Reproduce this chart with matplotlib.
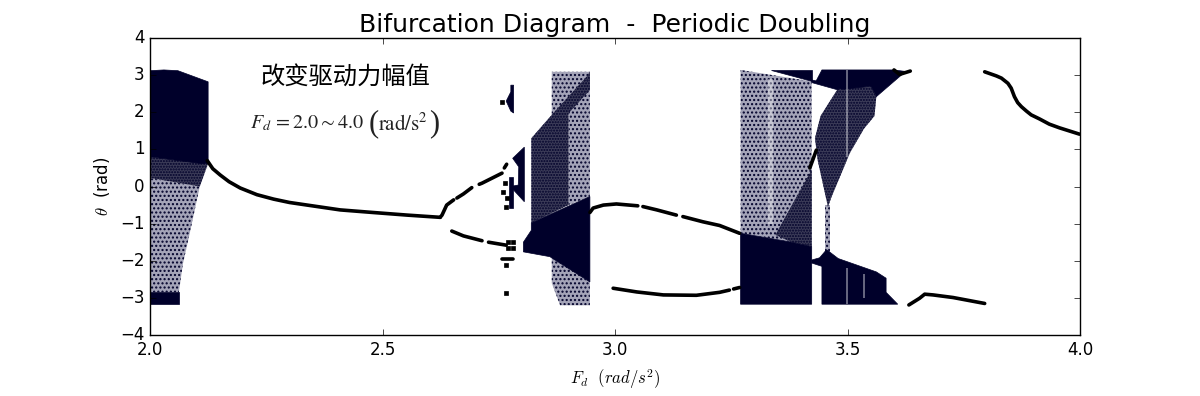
import matplotlib
matplotlib.use("Agg")
import matplotlib.pyplot as plt

plt.style.use("classic")
plt.rcParams["hatch.linewidth"] = 1.0

# thin curves: (Fd, theta), one list per visible piece
curve_main_f = [2.123, 2.135, 2.151, 2.170, 2.194, 2.230, 2.266, 2.300, 2.338, 2.409, 2.480, 2.553, 2.624]
curve_main_t = [0.70, 0.48, 0.31, 0.13, -0.04, -0.22, -0.34, -0.43, -0.50, -0.63, -0.70, -0.77, -0.83]

upper_a_f = [2.624, 2.628, 2.638, 2.653]
upper_a_t = [-0.83, -0.77, -0.50, -0.36]
upper_b_f = [2.660, 2.674, 2.692]
upper_b_t = [-0.31, -0.20, -0.03]
upper_c_f = [2.708, 2.714, 2.757]
upper_c_t = [0.06, 0.09, 0.36]
upper_d_f = [2.762, 2.767]
upper_d_t = [0.50, 0.60]

lower_a_f = [2.649, 2.674, 2.714]
lower_a_t = [-1.20, -1.33, -1.46]
lower_b_f = [2.728, 2.766]
lower_b_t = [-1.50, -1.58]
small_f = [2.757, 2.780]
small_t = [-1.96, -1.96]

hump_a_f = [2.946, 2.953, 2.975, 3.003, 3.049]
hump_a_t = [-0.70, -0.58, -0.50, -0.47, -0.52]
hump_b_f = [3.060, 3.090, 3.132]
hump_b_t = [-0.54, -0.63, -0.77]
hump_c_f = [3.146, 3.189, 3.225, 3.268]
hump_c_t = [-0.81, -0.95, -1.05, -1.26]

dip_f = [2.996, 3.047, 3.104, 3.175, 3.225, 3.246]
dip_t = [-2.74, -2.84, -2.92, -2.93, -2.85, -2.79]
dip_end_f = [3.255, 3.268]
dip_end_t = [-2.76, -2.72]

slant_f = [3.419, 3.433]
slant_t = [0.50, 0.98]

tail_low_f = [3.632, 3.655, 3.666, 3.684, 3.727, 3.795]
tail_low_t = [-3.19, -3.01, -2.90, -2.92, -2.99, -3.15]
tail_high_f = [3.795, 3.820, 3.831, 3.845, 3.852, 3.859, 3.866, 3.874, 3.885, 3.895, 3.913, 3.934, 3.956, 3.999]
tail_high_t = [3.09, 2.98, 2.92, 2.78, 2.65, 2.42, 2.26, 2.15, 2.03, 1.93, 1.82, 1.68, 1.58, 1.41]
fork_f = [3.600, 3.612, 3.635]
fork_t = [3.14, 3.02, 3.11]

dots_f = [2.770, 2.770, 2.780, 2.780, 2.767, 2.766, 2.760, 2.764, 2.766, 2.758, 2.766]
dots_t = [-1.50, -1.65, -1.50, -1.65, -0.31, -0.54, -0.15, 0.09, -2.12, 2.28, -2.87]

# dense clouds, solid: outline (Fd, theta)
solid_a_f = [2.000, 2.030, 2.060, 2.125, 2.125, 2.110, 2.000]
solid_a_t = [3.12, 3.14, 3.12, 2.82, 0.62, 0.62, 0.80]
solid_a2_f = [2.000, 2.062, 2.062, 2.000]
solid_a2_t = [-2.85, -2.85, -3.17, -3.17]
island_top_f = [2.776, 2.782, 2.782, 2.776, 2.766, 2.776]
island_top_t = [2.73, 2.73, 1.98, 2.03, 2.30, 2.55]
island_mid_f = [2.805, 2.780, 2.793, 2.792, 2.775, 2.805]
island_mid_t = [1.06, 0.76, 0.53, 0.04, 0.00, -0.41]
island_stem_f = [2.772, 2.780, 2.780, 2.772]
island_stem_t = [0.25, 0.25, -0.58, -0.58]
solid_b_f = [2.803, 2.820, 2.820, 2.946, 2.946, 2.860, 2.803]
solid_b_t = [-1.50, -1.18, -0.98, -0.27, -2.57, -1.89, -1.76]
solid_c_f = [3.270, 3.380, 3.423, 3.423, 3.270]
solid_c_t = [-1.26, -1.50, -1.62, -3.17, -3.17]
wedge_c_f = [3.336, 3.423, 3.423]
wedge_c_t = [3.14, 3.14, 2.83]
strip_c_f = [3.423, 3.480, 3.480, 3.423]
strip_c_t = [2.87, 2.72, 2.60, 2.80]
wedge_d_f = [3.445, 3.598, 3.625, 3.562, 3.550, 3.490, 3.470, 3.432]
wedge_d_t = [3.14, 3.14, 3.10, 2.42, 2.70, 2.62, 2.68, 2.83]
base_d_f = [3.423, 3.440, 3.455, 3.480, 3.562, 3.583, 3.583, 3.608, 3.445, 3.445, 3.423]
base_d_t = [-1.98, -1.92, -1.70, -1.94, -2.30, -2.47, -2.85, -3.17, -3.17, -2.15, -2.06]

# thinner clouds, dotted: outline (Fd, theta)
mid_a_f = [2.000, 2.125, 2.107, 2.000]
mid_a_t = [0.80, 0.62, 0.00, 0.23]
sparse_a_f = [2.000, 2.107, 2.087, 2.071, 2.062, 2.000]
sparse_a_t = [0.23, 0.00, -1.17, -2.07, -2.85, -2.85]
mid_b_f = [2.820, 2.864, 2.900, 2.900, 2.820]
mid_b_t = [1.30, 1.93, 2.40, -0.50, -0.98]
strip_b_f = [2.864, 2.939, 2.946, 2.946, 2.880]
strip_b_t = [1.93, 2.96, 3.09, 2.60, 1.70]
sparse_b_f = [2.864, 2.946, 2.946, 2.900, 2.900, 2.864]
sparse_b_t = [3.09, 3.09, -0.27, -0.50, 2.40, 1.93]
sparse_b2_f = [2.864, 2.946, 2.946, 2.882, 2.864]
sparse_b2_t = [-1.89, -2.57, -3.20, -3.20, -2.60]
sparse_c_f = [3.270, 3.423, 3.423, 3.380, 3.270]
sparse_c_t = [3.14, 2.83, -1.62, -1.50, -1.26]
mid_c_f = [3.423, 3.423, 3.380, 3.345]
mid_c_t = [0.45, -1.62, -1.50, -1.30]
mid_d_f = [3.480, 3.550, 3.562, 3.558, 3.535, 3.505, 3.465, 3.458, 3.436, 3.430, 3.442]
mid_d_t = [2.65, 2.70, 2.42, 1.90, 1.55, 0.90, -0.30, -0.55, 0.70, 1.30, 1.90]
stem_d_f = [3.452, 3.462, 3.462, 3.452]
stem_d_t = [-0.50, -0.50, -1.90, -1.90]

# pale vertical streaks that run through the clouds
streak_c_f = [3.328, 3.340, 3.340, 3.330]
streak_c_t = [2.90, 2.90, -1.00, -1.00]
streak_d1_f = [3.496, 3.500, 3.500, 3.496]
streak_d1_t = [-2.20, -2.20, -3.17, -3.17]
streak_d2_f = [3.533, 3.537, 3.537, 3.533]
streak_d2_t = [-2.35, -2.35, -3.00, -3.00]
streak_d3_f = [3.496, 3.500, 3.500, 3.496]
streak_d3_t = [3.14, 3.14, 0.80, 0.80]

title = "Bifurcation Diagram  -  Periodic Doubling"
note_cn = "改变驱动力幅值"
x_ticks = [2.0, 2.5, 3.0, 3.5, 4.0]
y_ticks = [-4, -3, -2, -1, 0, 1, 2, 3, 4]

NAVY = "#00002a"

fig = plt.figure(figsize=(12, 3.96), dpi=100, facecolor="white")
ax = fig.add_axes([0.125, 0.154, 0.775, 0.75])

# clouds go lightest first so the darker ones sit on top
for f, t in [(sparse_a_f, sparse_a_t), (sparse_b_f, sparse_b_t), (sparse_b2_f, sparse_b2_t),
             (sparse_c_f, sparse_c_t), (stem_d_f, stem_d_t)]:
    ax.fill(f, t, facecolor="#a4a4b8", edgecolor=NAVY, hatch="....", linewidth=0)
for f, t in [(mid_a_f, mid_a_t), (mid_b_f, mid_b_t), (mid_c_f, mid_c_t), (mid_d_f, mid_d_t),
             (strip_b_f, strip_b_t)]:
    ax.fill(f, t, facecolor="#3c3c58", edgecolor=NAVY, hatch="......", linewidth=0)

for f, t in [(solid_a_f, solid_a_t), (solid_a2_f, solid_a2_t), (island_top_f, island_top_t),
             (island_mid_f, island_mid_t), (island_stem_f, island_stem_t), (solid_b_f, solid_b_t),
             (solid_c_f, solid_c_t), (wedge_c_f, wedge_c_t), (strip_c_f, strip_c_t),
             (wedge_d_f, wedge_d_t), (base_d_f, base_d_t)]:
    ax.fill(f, t, facecolor=NAVY, edgecolor=NAVY, linewidth=0.5)

for f, t in [(streak_c_f, streak_c_t), (streak_d1_f, streak_d1_t), (streak_d2_f, streak_d2_t),
             (streak_d3_f, streak_d3_t)]:
    ax.fill(f, t, facecolor="white", edgecolor="none", alpha=0.4)

curves = [(curve_main_f, curve_main_t), (upper_a_f, upper_a_t), (upper_b_f, upper_b_t),
          (upper_c_f, upper_c_t), (upper_d_f, upper_d_t), (lower_a_f, lower_a_t),
          (lower_b_f, lower_b_t), (small_f, small_t), (hump_a_f, hump_a_t), (hump_b_f, hump_b_t),
          (hump_c_f, hump_c_t), (dip_f, dip_t), (dip_end_f, dip_end_t), (slant_f, slant_t),
          (tail_low_f, tail_low_t), (tail_high_f, tail_high_t), (fork_f, fork_t)]
for f, t in curves:
    ax.plot(f, t, color="black", lw=2.6, solid_capstyle="round")
ax.plot(dots_f, dots_t, ls="none", marker="s", ms=3, mfc="black", mec="black")

ax.set_xlim(2, 4)
ax.set_ylim(-4, 4)
ax.set_xticks(x_ticks)
ax.set_yticks(y_ticks)
ax.tick_params(labelsize=12)
ax.set_title(title, fontsize=18, pad=4)
ax.set_xlabel(r"$F_d\ \ (rad/s^2)$", fontsize=12, labelpad=6, math_fontfamily="cm")
ax.set_ylabel(r"$\theta$  (rad)", fontsize=12, labelpad=6, math_fontfamily="cm")

ax.text(2.42, 2.97, note_cn, fontsize=17.5, ha="center", va="center",
        family=["Noto Sans CJK SC", "DejaVu Sans"])
ax.text(2.337, 1.70, r"$F_d\,=2.0\sim4.0$", fontsize=14.5, ha="center", va="center",
        color="#222222", math_fontfamily="stix")
ax.text(2.545, 1.70, r"$\mathrm{rad/s^2}$", fontsize=15, ha="center", va="center",
        color="#222222", math_fontfamily="stix")
ax.text(2.482, 1.70, "(", fontsize=22, ha="center", va="center", color="#222222",
        family="Liberation Serif", fontweight="light")
ax.text(2.612, 1.70, ")", fontsize=22, ha="center", va="center", color="#222222",
        family="Liberation Serif", fontweight="light")

fig.savefig("out.png", dpi=100, facecolor="white")
